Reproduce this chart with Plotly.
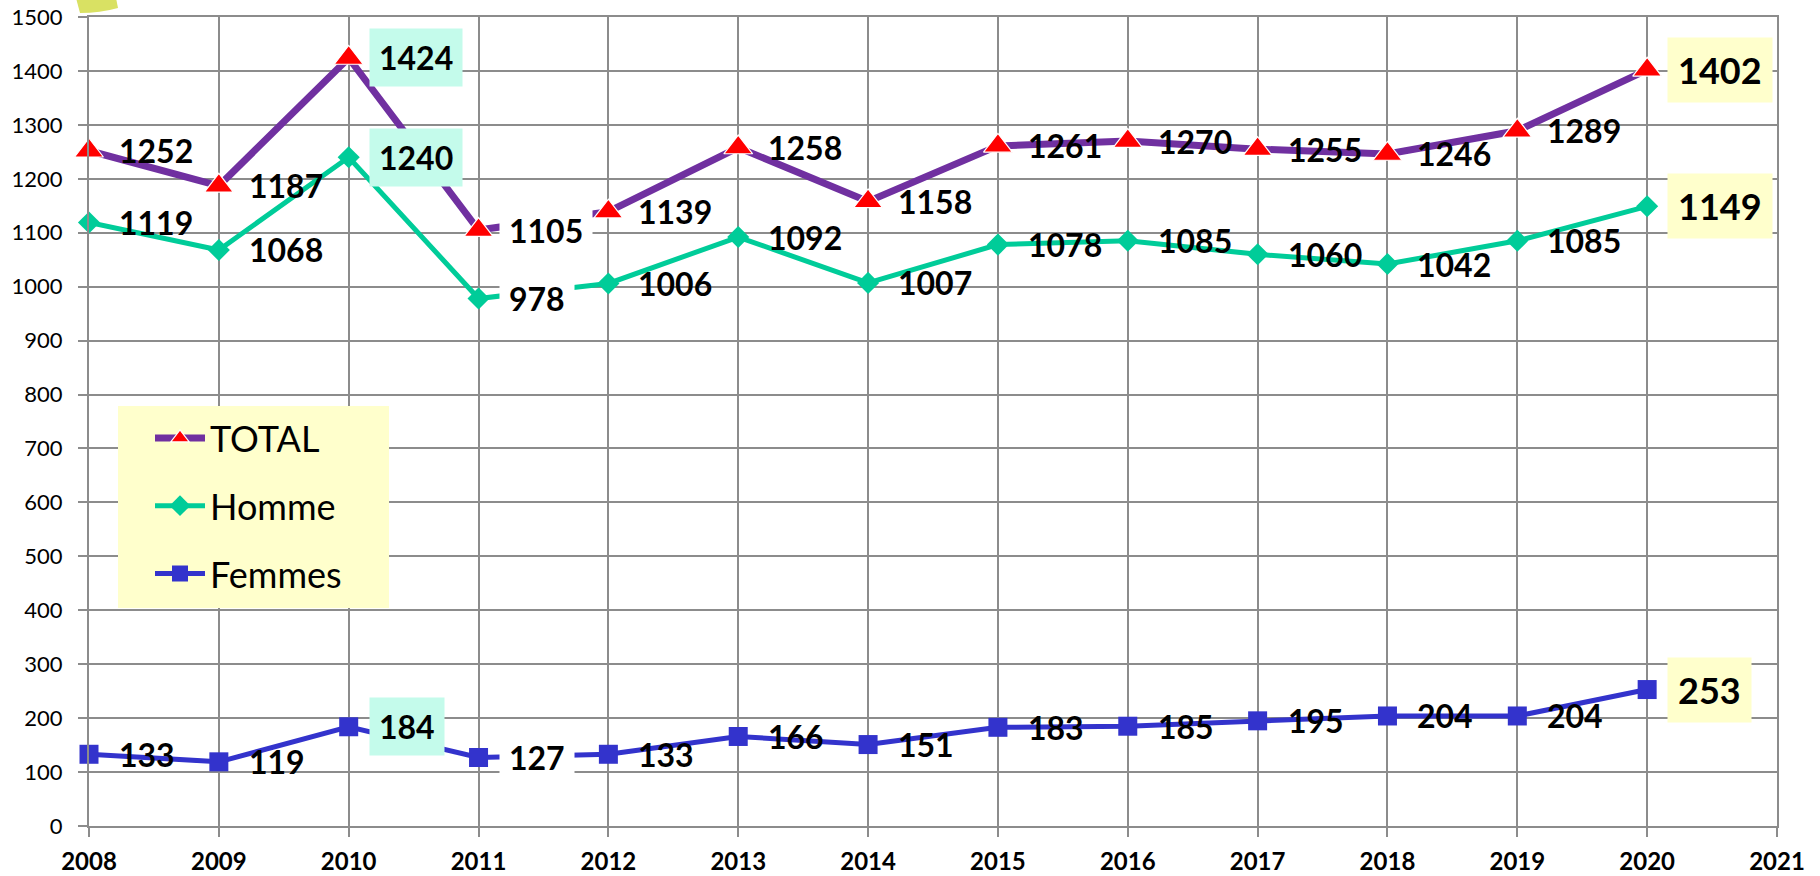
import plotly.graph_objects as go

# ---- data ----
years = [2008, 2009, 2010, 2011, 2012, 2013, 2014, 2015, 2016, 2017, 2018, 2019, 2020]
total = [1252, 1187, 1424, 1105, 1139, 1258, 1158, 1261, 1270, 1255, 1246, 1289, 1402]
homme = [1119, 1068, 1240, 978, 1006, 1092, 1007, 1078, 1085, 1060, 1042, 1085, 1149]
femmes = [133, 119, 184, 127, 133, 166, 151, 183, 185, 195, 204, 204, 253]
x_ticks = [2008, 2009, 2010, 2011, 2012, 2013, 2014, 2015, 2016, 2017, 2018, 2019, 2020, 2021]
y_ticks = list(range(0, 1501, 100))

# ---- geometry (page pixels; body margin removed by post_script) ----
W, H = 1820, 876
PL, PT, PR, PB = 89, 17, 1777, 826          # plot area on the page
L, T = PL, PT
R, B = W - PR, H - PB
PW, PH = PR - PL, PB - PT


def px_x(px):
    return (px - PL) / PW


def px_y(py):
    return (PB - py) / PH


GRID = "#8c8c8c"
FONT = "Lato"

fig = go.Figure()

series = [
    ("TOTAL", total, "#7030A0", 7, "triangle-up", 25, "#FF0000"),
    ("Homme", homme, "#00CC99", 5, "diamond", 17, "#00CC99"),
    ("Femmes", femmes, "#3333CC", 5, "square", 19, "#3333CC"),
]

for i, (name, vals, col, lw, sym, ms, mcol) in enumerate(series):
    fig.add_trace(go.Scatter(
        x=years, y=vals, name=name, mode="lines+markers",
        line=dict(color=col, width=lw),
        marker=dict(symbol=sym, size=ms, color=mcol,
                    line=dict(color="white", width=1.2 if sym == "triangle-up" else 0)),
        legendgroup=f"g{i}", cliponaxis=False,
    ))

# ---- data labels ----
def label_style(idx):
    yr = years[idx]
    if yr == 2010:
        return "#C4FBEB", 32, 9
    if yr == 2011:
        return "#FFFFFF", 32, 9
    if yr == 2020:
        return "#FFFFCC", 36, 10
    return "rgba(0,0,0,0)", 32, 9


annotations = []
for _, vals, *_rest in series:
    for idx, (xv, yv) in enumerate(zip(years, vals)):
        bg, fs, pad = label_style(idx)
        annotations.append(dict(
            x=xv, y=yv, xref="x", yref="y", text=str(yv), showarrow=False,
            xanchor="left", yanchor="middle", xshift=20,
            bgcolor=bg, borderpad=pad,
            font=dict(family=FONT, size=fs, color="black", weight="bold"),
        ))

shapes = [
    # legend background
    dict(type="rect", xref="paper", yref="paper",
         x0=px_x(118), x1=px_x(389), y0=px_y(608), y1=px_y(406),
         fillcolor="#FFFFCC", line=dict(width=0), layer="above"),
    # clipped decorative blob at top-left
    dict(type="path", xref="paper", yref="paper",
         path=(f"M {px_x(76)} {px_y(-2)} L {px_x(80)} {px_y(13)} "
               f"Q {px_x(100)} {px_y(13)} {px_x(118)} {px_y(8)} "
               f"L {px_x(116)} {px_y(-2)} Z"),
         fillcolor="#D9E163", line=dict(width=0), layer="above"),
]

fig.update_layout(
    width=W, height=H,
    margin=dict(l=L, r=R, t=T, b=B, autoexpand=False),
    paper_bgcolor="white", plot_bgcolor="white",
    showlegend=True,
    legend=dict(
        x=px_x(150), y=px_y(408), xanchor="left", yanchor="top",
        bgcolor="rgba(0,0,0,0)", borderwidth=0,
        font=dict(family=FONT, size=36, color="black"),
        tracegroupgap=18, itemsizing="trace", itemwidth=50,
    ),
    annotations=annotations,
    shapes=shapes,
    xaxis=dict(
        range=[2008, 2021], tickmode="array", tickvals=x_ticks,
        ticktext=[str(v) for v in x_ticks], automargin=False,
        ticklabeloverflow="allow",
        showgrid=True, gridcolor=GRID, gridwidth=2,
        showline=True, linecolor=GRID, linewidth=2, mirror=True,
        ticks="outside", ticklen=9, tickwidth=2, tickcolor=GRID,
        ticklabelstandoff=4,
        tickfont=dict(family=FONT, size=24, color="black", weight="bold"),
        zeroline=False,
    ),
    yaxis=dict(
        range=[0, 1500], tickmode="array", tickvals=y_ticks, automargin=False,
        ticklabeloverflow="allow",
        showgrid=True, gridcolor=GRID, gridwidth=2,
        showline=True, linecolor=GRID, linewidth=2, mirror=True,
        ticks="outside", ticklen=9, tickwidth=2, tickcolor=GRID,
        ticklabelstandoff=11,
        tickfont=dict(family=FONT, size=22, color="black"),
        zeroline=False,
    ),
)

fig.write_html(
    "out.html",
    config={"displayModeBar": False},
    post_script="document.body.style.margin='0';document.body.style.overflow='hidden';",
)
